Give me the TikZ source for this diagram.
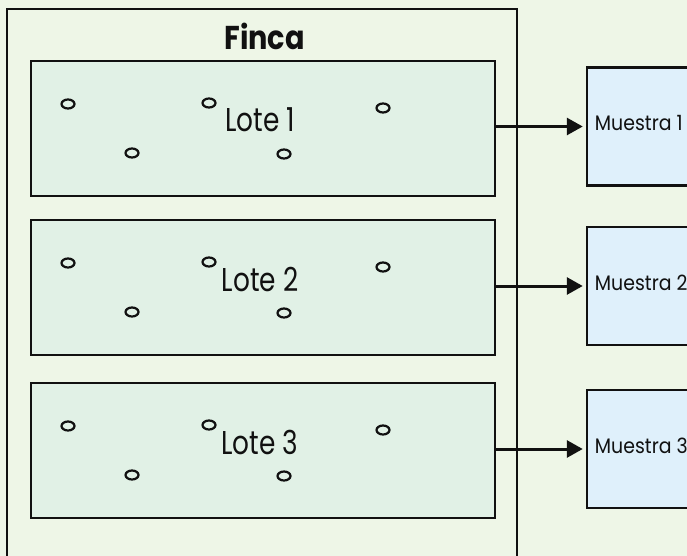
\documentclass[tikz,border=0pt]{standalone}
\usepackage{fontspec}
\setmainfont{Poppins}
\usetikzlibrary{arrows.meta}
\definecolor{bgc}{HTML}{EEF6E7}
\definecolor{lotec}{HTML}{E1F1E6}
\definecolor{muestc}{HTML}{DFF0FB}
\definecolor{ink}{HTML}{111111}
\tikzset{
  fincabox/.style={draw=ink, line width=2.5pt, fill=none, rectangle, inner sep=0pt, minimum width=510pt, minimum height=581pt},
  lotebox/.style={draw=ink, line width=2.5pt, fill=lotec, rectangle, inner sep=0pt, minimum width=464pt, minimum height=135pt},
  muestrabox/.style={draw=ink, line width=2.5pt, fill=muestc, rectangle, inner sep=0pt, minimum width=133pt, minimum height=118pt},
  lotetext/.style={text=ink, inner sep=0pt, font=\fontsize{33}{36}\selectfont},
  fincatext/.style={text=ink, inner sep=0pt, font=\fontsize{33}{36}\selectfont\bfseries},
  muestratext/.style={text=ink, inner sep=0pt, font=\fontsize{21}{24}\selectfont},
  pointmark/.style={draw=ink, line width=2.2pt},
  flow/.style={draw=ink, line width=3pt, -{Triangle[length=16pt,width=17pt]}, shorten >=3pt}
}
\begin{document}
\begin{tikzpicture}[x=1pt,y=-1pt]
\useasboundingbox (0,0) rectangle (687,556);
\fill[bgc] (0,0) rectangle (687,556);
\node[fincabox] (finca) at (262,299.5) {};
\node[fincatext, anchor=base] (fincalabel) at (264.5,50) {\scalebox{0.87}[1]{Finca}};
% lotes
\node[lotebox] (l1) at (263,128.5) {};
\node[lotebox] (l2) at (263,287.5) {};
\node[lotebox] (l3) at (263,450.5) {};
\foreach \i/\T in {1/61,2/220,3/383}{
  \node[lotetext, anchor=base] (lt\i) at (260,\T+71) {\scalebox{0.8}[1]{Lote \i}};
  \draw[pointmark] (68,\T+43) ellipse [x radius=6.5pt, y radius=4.5pt];
  \draw[pointmark] (209,\T+42) ellipse [x radius=6.5pt, y radius=4.5pt];
  \draw[pointmark] (383,\T+47) ellipse [x radius=6.5pt, y radius=4.5pt];
  \draw[pointmark] (132,\T+92) ellipse [x radius=6.5pt, y radius=4.5pt];
  \draw[pointmark] (284,\T+93) ellipse [x radius=6.5pt, y radius=4.5pt];
}
% muestras
\node[muestrabox] (m1) at (653.5,126.5) {};
\node[muestrabox] (m2) at (653.5,286) {};
\node[muestrabox] (m3) at (653.5,449) {};
\foreach \i in {1,2,3}{
  \node[muestratext, anchor=base west, xshift=9pt, yshift=-4pt] (mt\i) at (m\i.west) {\scalebox{0.9}[1]{Muestra \i}};
  \draw[flow] (m\i.west -| l\i.east) -- (m\i.west);
}
\end{tikzpicture}
\end{document}
